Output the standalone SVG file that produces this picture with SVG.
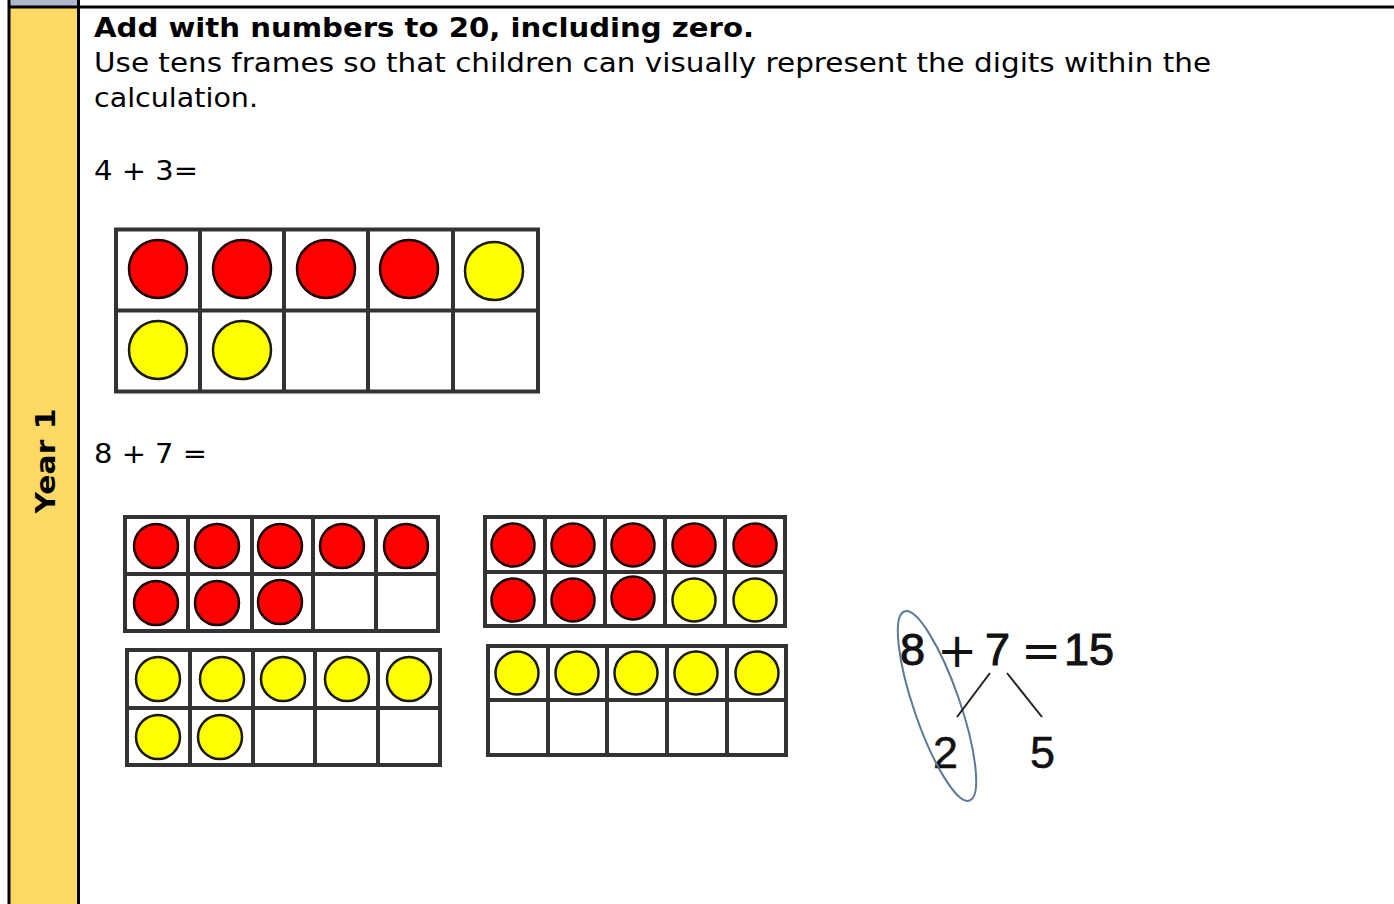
<svg xmlns="http://www.w3.org/2000/svg" width="1394" height="904" viewBox="0 0 1394 904">
<defs>
<style>
.txt{font-family:"DejaVu Sans","Verdana",sans-serif;font-size:26px;fill:#000}
.bold{font-weight:bold}
.fr{fill:#fff;stroke:#333;stroke-width:4}
.ln{stroke:#333;stroke-width:4;fill:none}
.red{fill:#ff0000;stroke:#1a0000;stroke-width:2.5}
.yel{fill:#ffff00;stroke:#1a1a00;stroke-width:2.5}
.nb{font-family:"Liberation Sans","Arial",sans-serif;font-size:45px;fill:#111;stroke:#111;stroke-width:1}
.sym{font-family:"DejaVu Sans",sans-serif;font-size:48px;fill:#111}
</style>
</defs>
<rect width="1394" height="904" fill="#fff"/>
<g id="left-column">
<rect x="9" y="0" width="69" height="7" fill="#adb9ca"/>
<rect x="9" y="7" width="69" height="897" fill="#ffd966"/>
<line x1="9" y1="0" x2="9" y2="904" stroke="#000" stroke-width="3"/>
<line x1="78.5" y1="0" x2="78.5" y2="904" stroke="#000" stroke-width="3"/>
<line x1="8" y1="7" x2="1394" y2="7" stroke="#000" stroke-width="3"/>
<text class="txt bold" transform="translate(55,461) rotate(-90)" text-anchor="middle" textLength="105" lengthAdjust="spacingAndGlyphs">Year 1</text>
</g>
<g id="heading">
<text class="txt bold" x="94" y="37" textLength="660" lengthAdjust="spacingAndGlyphs">Add with numbers to 20, including zero.</text>
<text class="txt" x="94" y="72" textLength="1117" lengthAdjust="spacingAndGlyphs">Use tens frames so that children can visually represent the digits within the</text>
<text class="txt" x="94" y="107" textLength="164" lengthAdjust="spacingAndGlyphs">calculation.</text>
<text class="txt" x="94" y="180" textLength="104" lengthAdjust="spacingAndGlyphs">4 + 3=</text>
<text class="txt" x="94" y="463" textLength="113" lengthAdjust="spacingAndGlyphs">8 + 7 =</text>
</g>
<g id="frame-4plus3">
<rect class="fr" x="116" y="229.5" width="422" height="162" stroke-width="5"/>
<path class="ln" d="M200 229v163M284 229v163M368 229v163M453 229v163M116 310.5h422"/>
<circle class="red" cx="158" cy="269" r="29"/>
<circle class="red" cx="242" cy="269" r="29"/>
<circle class="red" cx="326" cy="269" r="29"/>
<circle class="red" cx="409" cy="269" r="29"/>
<circle class="yel" cx="494" cy="271" r="29"/>
<circle class="yel" cx="158" cy="350" r="29"/>
<circle class="yel" cx="242" cy="350" r="29"/>
</g>
<g id="frame-8-red">
<rect class="fr" x="125" y="517" width="313" height="114"/>
<path class="ln" d="M188 517v114M252 517v114M313 517v114M376 517v114M125 574h313"/>
<circle class="red" cx="156" cy="546" r="22"/>
<circle class="red" cx="217" cy="546" r="22"/>
<circle class="red" cx="280" cy="546" r="22"/>
<circle class="red" cx="342" cy="546" r="22"/>
<circle class="red" cx="406" cy="546" r="22"/>
<circle class="red" cx="156" cy="603" r="22"/>
<circle class="red" cx="217" cy="603" r="22"/>
<circle class="red" cx="280" cy="602" r="22"/>
</g>
<g id="frame-7-yellow">
<rect class="fr" x="127" y="650" width="313" height="115"/>
<path class="ln" d="M190 650v115M253 650v115M315 650v115M378 650v115M127 708h313"/>
<circle class="yel" cx="158" cy="679" r="22"/>
<circle class="yel" cx="222" cy="679" r="22"/>
<circle class="yel" cx="283" cy="679" r="22"/>
<circle class="yel" cx="347" cy="679" r="22"/>
<circle class="yel" cx="409" cy="679" r="22"/>
<circle class="yel" cx="158" cy="737" r="22"/>
<circle class="yel" cx="220" cy="737" r="22"/>
</g>
<g id="frame-ten">
<rect class="fr" x="485" y="517" width="300" height="109"/>
<path class="ln" d="M545 517v109M605 517v109M665 517v109M725 517v109M485 572h300"/>
<circle class="red" cx="513" cy="545" r="21.5"/>
<circle class="red" cx="573" cy="545" r="21.5"/>
<circle class="red" cx="633" cy="545" r="21.5"/>
<circle class="red" cx="694" cy="545" r="21.5"/>
<circle class="red" cx="755" cy="545" r="21.5"/>
<circle class="red" cx="513" cy="600" r="21.5"/>
<circle class="red" cx="573" cy="600" r="21.5"/>
<circle class="red" cx="633" cy="598" r="21.5"/>
<circle class="yel" cx="694" cy="600" r="21.5"/>
<circle class="yel" cx="755" cy="600" r="21.5"/>
</g>
<g id="frame-five">
<rect class="fr" x="488" y="646" width="298" height="109"/>
<path class="ln" d="M548 646v109M607 646v109M667 646v109M727 646v109M488 700h298"/>
<circle class="yel" cx="517" cy="673" r="21.5"/>
<circle class="yel" cx="577" cy="673" r="21.5"/>
<circle class="yel" cx="636" cy="673" r="21.5"/>
<circle class="yel" cx="696" cy="673" r="21.5"/>
<circle class="yel" cx="757" cy="673" r="21.5"/>
</g>
<g id="number-bond">
<text class="nb" x="900" y="665">8</text>
<text class="sym" x="937" y="667">+</text>
<text class="nb" x="985" y="665">7</text>
<text class="sym" x="1021" y="667">=</text>
<text class="nb" x="1064" y="665">15</text>
<text class="nb" x="933" y="768" style="stroke-width:0.5">2</text>
<text class="nb" x="1030" y="768" style="stroke-width:0.5">5</text>
<ellipse cx="937" cy="706" rx="100" ry="23" transform="rotate(71 937 706)" fill="none" stroke="#5a7a98" stroke-width="2"/>
</g>
<g id="connectors">
<line x1="990" y1="673" x2="957" y2="717" stroke="#222" stroke-width="2"/>
<line x1="1007" y1="673" x2="1042" y2="717" stroke="#222" stroke-width="2"/>
</g>
</svg>
